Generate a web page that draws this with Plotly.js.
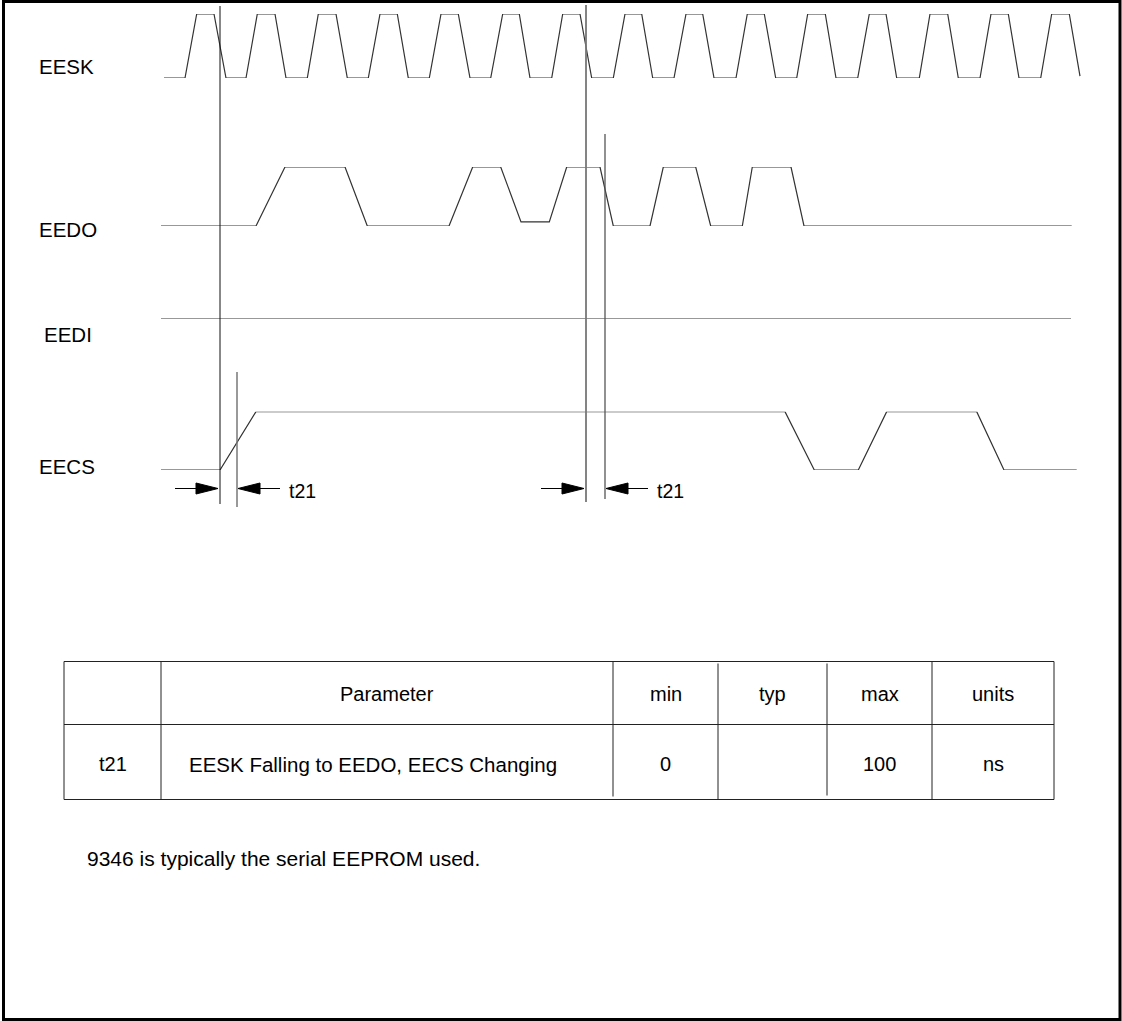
<!DOCTYPE html>
<html>
<head>
<meta charset="utf-8">
<script src="https://cdn.plot.ly/plotly-3.0.1.min.js"></script>
<style>html,body{margin:0;padding:0;background:#fff;}#chart{width:1122px;height:1021px;}</style>
</head>
<body>
<div id="chart"></div>
<script>
// ---------------- DATA ----------------
const signalNames = ["EESK", "EEDO", "EEDI", "EECS"];

// EESK clock: vertex times and logic levels
const eeskT = [164,185,196.7,214,226,246,257.3,275,286,307.3,318.3,336,347.3,368.3,380,397.3,408.3,429.3,441,458.3,470,490.7,502.7,519.3,530,551.7,562.7,580,591.7,613.3,625,641.7,652.7,674,686,702.7,714,736,747.3,764.3,775.7,796.7,807.7,825.3,836,857.7,869.3,886,896.7,919.3,930,947.7,958.3,980,991,1008.3,1019,1040.7,1051.7,1069.3,1080];
const eeskV = [0,0,1,1,0,0,1,1,0,0,1,1,0,0,1,1,0,0,1,1,0,0,1,1,0,0,1,1,0,0,1,1,0,0,1,1,0,0,1,1,0,0,1,1,0,0,1,1,0,0,1,1,0,0,1,1,0,0,1,1,0.03];

// EEDO data out
const eedoT = [161,256,285,345,367.3,449,472.7,500.7,521,549.3,566.7,600,613.3,650,663.3,695.7,710.7,742.3,752.3,791,804,1071.7];
const eedoV = [0,0,1,1,0,0,1,1,0.07,0.07,1,1,0,0,1,1,0,0,1,1,0,0];

// EEDI data in (flat)
const eediT = [161,1071];
const eediV = [0,0];

// EECS chip select
const eecsT = [161,220,256,785,814.3,858.3,886.7,976.7,1004,1076.7];
const eecsV = [0,0,1,1,0,0,1,1,0,0];

// timing reference lines and t21 intervals
const markerT = [220, 237, 586, 605];
const t21Intervals = [[220, 237], [586, 605]];
const t21Label = "t21";

// parameter table
const tableHeader = ["", "Parameter", "min", "typ", "max", "units"];
const tableRow = ["t21", "EESK Falling to EEDO, EECS Changing", "0", "", "100", "ns"];
const footnote = "9346 is typically the serial EEPROM used.";

// ---------------- LAYOUT GEOMETRY ----------------
const W = 1122, H = 1021;
const fy = p => 1 - p / H;
// lane pixel positions [lowY, highY]
const lanes = [[78, 14], [226, 167], [319, 260], [470, 411.7]];
const labelPos = [[37, 66], [37, 229], [42, 334], [37, 466]];
const markerY = [[6, 504], [372, 507], [5, 502], [134, 499]];
const markerCol = ["#111", "#777", "#777", "#555"];
const markerW = [1, 1.5, 1.8, 1.3];
const arrowY = 488.5;
const colEdges = [64, 161, 613, 718, 827, 932, 1054];
const rowEdges = [661.5, 724.5, 799.5];
// small gaps in the reference's column rules [top inset, bottom inset]
const colInset = [[0, 0], [0, 0], [0, 3], [2, 0], [2, 4], [0, 0], [0, 0]];

const lineStyle = {color: "#333", width: 1.2};
const sigT = [eeskT, eedoT, eediT, eecsT];
const sigV = [eeskV, eedoV, eediV, eecsV];

const traces = [];
sigT.forEach((t, i) => {
  traces.push({
    type: "scatter", mode: "lines", x: t, y: sigV[i],
    xaxis: "x", yaxis: "y" + (i + 2), line: lineStyle,
    hoverinfo: "skip", showlegend: false, name: signalNames[i]
  });
});
// invisible anchor trace for the pixel-space axis
traces.push({type: "scatter", mode: "markers", x: [0], y: [0], marker: {opacity: 0}, hoverinfo: "skip", showlegend: false});

const font = "Liberation Sans, Arial, sans-serif";
const shapes = [];
const annotations = [];

// frame
shapes.push({type: "rect", xref: "x", yref: "y", x0: 3.5, x1: 1120, y0: 1.5, y1: 1019.5, line: {color: "#000", width: 3}});

// marker lines
markerT.forEach((t, i) => {
  shapes.push({type: "line", xref: "x", yref: "y", x0: t, x1: t, y0: markerY[i][0], y1: markerY[i][1],
    line: {color: markerCol[i], width: markerW[i]}});
});

// t21 arrows
t21Intervals.forEach(([a, b]) => {
  const rTip = a - 2, rBase = rTip - 22, rTail = rTip - 43;
  const lTip = b + 1, lBase = lTip + 22, lTail = lTip + 42;
  const hh = 5.5;
  shapes.push({type: "line", xref: "x", yref: "y", x0: rTail, x1: rBase, y0: arrowY, y1: arrowY, line: {color: "#000", width: 1}});
  shapes.push({type: "path", xref: "x", yref: "y", path: `M${rTip},${arrowY} L${rBase},${arrowY - hh} L${rBase},${arrowY + hh} Z`, fillcolor: "#000", line: {color: "#000", width: 1}});
  shapes.push({type: "line", xref: "x", yref: "y", x0: lBase, x1: lTail, y0: arrowY, y1: arrowY, line: {color: "#000", width: 1}});
  shapes.push({type: "path", xref: "x", yref: "y", path: `M${lTip},${arrowY} L${lBase},${arrowY - hh} L${lBase},${arrowY + hh} Z`, fillcolor: "#000", line: {color: "#000", width: 1}});
  annotations.push({xref: "x", yref: "y", x: lTail + 7, y: arrowY + 2, text: t21Label, showarrow: false,
    xanchor: "left", yanchor: "middle", font: {family: font, size: 19.5, color: "#000"}});
});

// signal labels
signalNames.forEach((n, i) => {
  annotations.push({xref: "x", yref: "y", x: labelPos[i][0], y: labelPos[i][1], text: n, showarrow: false,
    xanchor: "left", yanchor: "middle", font: {family: font, size: 20.5, color: "#000"}});
});

// table lines
rowEdges.forEach(r => shapes.push({type: "line", xref: "x", yref: "y", x0: colEdges[0], x1: colEdges[colEdges.length - 1], y0: r, y1: r, line: {color: "#222", width: 1}}));
colEdges.forEach((c, i) => shapes.push({type: "line", xref: "x", yref: "y", x0: c, x1: c,
  y0: rowEdges[0] + colInset[i][0], y1: rowEdges[2] - colInset[i][1], line: {color: "#222", width: 1}}));

// table text
const tFont = {family: font, size: 20, color: "#000"};
const hdrY = (rowEdges[0] + rowEdges[1]) / 2 + 1;
const rowY = (rowEdges[1] + rowEdges[2]) / 2 + 2;
tableHeader.forEach((t, i) => {
  if (!t) return;
  annotations.push({xref: "x", yref: "y", x: (colEdges[i] + colEdges[i + 1]) / 2, y: hdrY, text: t, showarrow: false,
    xanchor: "center", yanchor: "middle", font: tFont});
});
tableRow.forEach((t, i) => {
  if (!t) return;
  const left = i === 1;
  annotations.push({xref: "x", yref: "y", x: left ? colEdges[i] + 26 : (colEdges[i] + colEdges[i + 1]) / 2, y: rowY, text: t, showarrow: false,
    xanchor: left ? "left" : "center", yanchor: "middle", font: left ? {family: font, size: 20.5, color: "#000"} : tFont});
});

// footnote
annotations.push({xref: "x", yref: "y", x: 85, y: 858, text: footnote, showarrow: false,
  xanchor: "left", yanchor: "middle", font: {family: font, size: 21, color: "#000"}});

const layout = {
  width: W, height: H, margin: {l: 0, r: 0, t: 0, b: 0},
  paper_bgcolor: "#fff", plot_bgcolor: "#fff", showlegend: false,
  xaxis: {range: [0, W], visible: false, fixedrange: true},
  yaxis: {range: [H, 0], domain: [0, 1], visible: false, fixedrange: true, anchor: "x"},
  shapes: shapes, annotations: annotations
};
lanes.forEach((ln, i) => {
  layout["yaxis" + (i + 2)] = {domain: [fy(ln[0]), fy(ln[1])], range: [0, 1], visible: false, fixedrange: true, anchor: "x"};
});

Plotly.newPlot("chart", traces, layout, {staticPlot: true, displayModeBar: false});
</script>
</body>
</html>
